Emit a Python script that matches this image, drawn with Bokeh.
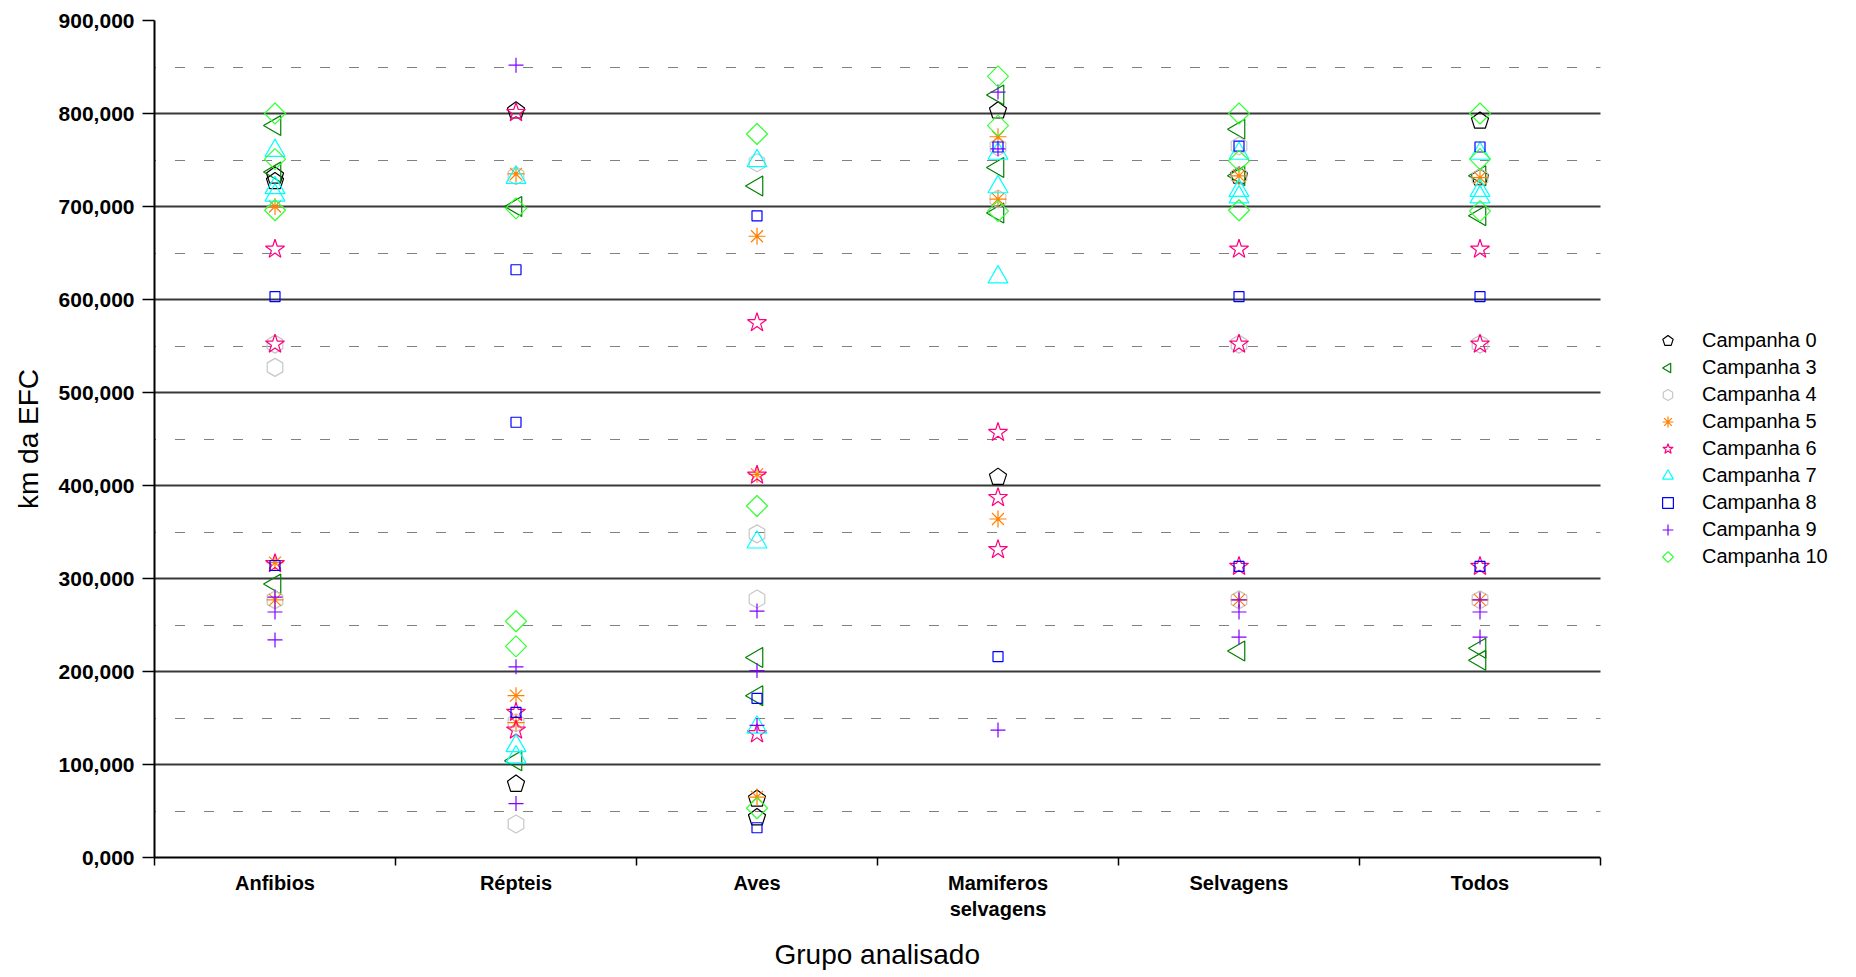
import math
from bokeh.plotting import figure
from bokeh.models import (Range1d, FixedTicker, Legend, LegendItem, ColumnDataSource, Ngon, Title,
                          BoxAnnotation)
from bokeh.embed import file_html
from bokeh.resources import INLINE

# ---------------- data ----------------
cat_keys = ["Anfibios", "Répteis", "Aves", "Mamiferos", "Selvagens", "Todos"]
cat_labels = ["Anfibios", "Répteis", "Aves", "Mamiferos\nselvagens", "Selvagens", "Todos"]

y_ticks = [0, 100, 200, 300, 400, 500, 600, 700, 800, 900]
y_minor = [50, 150, 250, 350, 450, 550, 650, 750, 850]

c0_grp = ["Anfibios", "Anfibios", "Répteis", "Répteis", "Aves", "Aves", "Mamiferos", "Mamiferos", "Selvagens", "Todos", "Todos"]
c0_km = [733, 727, 803, 79, 63, 43, 803, 409, 733, 792, 731]

c3_grp = ["Anfibios", "Anfibios", "Anfibios", "Répteis", "Répteis", "Aves", "Aves", "Aves", "Mamiferos", "Mamiferos", "Mamiferos",
          "Selvagens", "Selvagens", "Selvagens", "Todos", "Todos", "Todos", "Todos"]
c3_km = [787, 737, 294, 700, 104, 722, 215, 174, 820, 742, 693, 783, 733, 222, 733, 690, 225, 212]

c4_grp = ["Anfibios", "Anfibios", "Anfibios", "Répteis", "Répteis", "Répteis", "Aves", "Aves", "Aves", "Mamiferos", "Mamiferos",
          "Selvagens", "Selvagens", "Selvagens", "Selvagens", "Todos", "Todos", "Todos"]
c4_km = [552, 527, 277, 733, 145, 36, 747, 348, 278, 764, 708, 765, 733, 552, 277, 731, 552, 277]

c5_grp = ["Anfibios", "Anfibios", "Anfibios", "Répteis", "Répteis", "Répteis", "Aves", "Aves", "Aves", "Mamiferos", "Mamiferos", "Mamiferos",
          "Selvagens", "Selvagens", "Todos", "Todos"]
c5_km = [700, 317, 277, 735, 174, 145, 668, 412, 65, 775, 708, 364, 733, 277, 731, 277]

c6_grp = ["Anfibios", "Anfibios", "Anfibios", "Répteis", "Répteis", "Répteis", "Aves", "Aves", "Aves", "Mamiferos", "Mamiferos", "Mamiferos",
          "Selvagens", "Selvagens", "Selvagens", "Todos", "Todos", "Todos"]
c6_km = [654, 552, 316, 801, 156, 137, 575, 411, 133, 457, 387, 331, 654, 552, 313, 654, 552, 313]

c7_grp = ["Anfibios", "Anfibios", "Anfibios", "Répteis", "Répteis", "Répteis", "Aves", "Aves", "Aves", "Mamiferos", "Mamiferos", "Mamiferos",
          "Selvagens", "Selvagens", "Selvagens", "Todos", "Todos", "Todos"]
c7_km = [760, 720, 712, 731, 120, 108, 749, 339, 140, 757, 721, 624, 757, 717, 710, 757, 717, 710]

c8_grp = ["Anfibios", "Anfibios", "Répteis", "Répteis", "Répteis", "Aves", "Aves", "Aves", "Mamiferos", "Mamiferos",
          "Selvagens", "Selvagens", "Selvagens", "Todos", "Todos", "Todos"]
c8_km = [603, 314, 632, 468, 156, 690, 171, 32, 764, 216, 765, 603, 313, 764, 603, 313]

c9_grp = ["Anfibios", "Anfibios", "Anfibios", "Répteis", "Répteis", "Répteis", "Aves", "Aves", "Aves", "Mamiferos", "Mamiferos", "Mamiferos",
          "Selvagens", "Selvagens", "Selvagens", "Todos", "Todos", "Todos"]
c9_km = [280, 264, 234, 852, 205, 58, 265, 201, 142, 823, 762, 137, 277, 264, 237, 277, 264, 237]

c10_grp = ["Anfibios", "Anfibios", "Anfibios", "Répteis", "Répteis", "Répteis", "Aves", "Aves", "Aves", "Mamiferos", "Mamiferos", "Mamiferos",
           "Selvagens", "Selvagens", "Selvagens", "Todos", "Todos", "Todos"]
c10_km = [800, 751, 696, 698, 254, 227, 778, 378, 53, 840, 787, 695, 800, 749, 696, 800, 751, 695]

series_names = ["Campanha 0", "Campanha 3", "Campanha 4", "Campanha 5", "Campanha 6",
                "Campanha 7", "Campanha 8", "Campanha 9", "Campanha 10"]

x_title = "Grupo analisado"
y_title = "km da EFC"

# ---------------- figure ----------------
FONT = "Liberation Sans"
PLOT_W = 1446          # width of the 6 category columns, px
FRAME_W = 1696         # frame extends to the right to host the legend
n_cat = len(cat_keys)
p = figure(frame_width=FRAME_W, frame_height=837, output_backend="svg", toolbar_location=None,
           x_range=Range1d(0, n_cat * FRAME_W / PLOT_W), y_range=Range1d(0, 900),
           min_border_left=154, min_border_top=20, min_border_bottom=0, min_border_right=0)
p.outline_line_color = None
p.background_fill_color = "white"

def xs(grp):
    return [cat_keys.index(g) + 0.5 for g in grp]

style = [
    # name, grp, km, kind, marker/n, color, size, angle
    (series_names[0], c0_grp, c0_km, "ngon", 5, "black", 9, 0),
    (series_names[1], c3_grp, c3_km, "ngon", 3, "#008000", 11.5, math.pi / 2),
    (series_names[2], c4_grp, c4_km, "ngon", 6, "#c8c8c8", 9, 0),
    (series_names[3], c5_grp, c5_km, "scatter", "asterisk", "#ff8000", 17, 0),
    (series_names[4], c6_grp, c6_km, "scatter", "star", "#ff0080", 20, 0),
    (series_names[5], c7_grp, c7_km, "scatter", "triangle", "#00ffff", 20, 0),
    (series_names[6], c8_grp, c8_km, "scatter", "square", "#0000ff", 10, 0),
    (series_names[7], c9_grp, c9_km, "scatter", "cross", "#8000ff", 15, 0),
    (series_names[8], c10_grp, c10_km, "ngon", 4, "#33ff33", 10.5, 0),
]

items = []
for name, grp, km, kind, mk, color, size, ang in style:
    src = ColumnDataSource(dict(x=xs(grp), y=km))
    if kind == "ngon":
        g = Ngon(x="x", y="y", radius=size, radius_units="screen", n=mk, angle=ang,
                 fill_color=None, line_color=color, line_width=1.2)
        r = p.add_glyph(src, g)
    else:
        r = p.scatter("x", "y", source=src, marker=mk, size=size, angle=ang,
                      fill_color=None, line_color=color, line_width=1.2)
    items.append(LegendItem(label=name, renderers=[r]))

# ---------------- axes ----------------
p.xaxis.bounds = (0, n_cat)
p.xaxis.ticker = FixedTicker(ticks=[i + 0.5 for i in range(n_cat)],
                             minor_ticks=list(range(n_cat + 1)))
p.xaxis.major_label_overrides = {i + 0.5: lab for i, lab in enumerate(cat_labels)}
p.xaxis.major_tick_line_color = None
p.xaxis.major_tick_out = 8
p.xaxis.minor_tick_out = 8
p.xaxis.minor_tick_in = 0
p.xaxis.minor_tick_line_color = "black"
p.xaxis.minor_tick_line_width = 1.5
p.xaxis.major_label_standoff = 6

p.yaxis.ticker = FixedTicker(ticks=y_ticks, minor_ticks=y_minor)
p.yaxis.major_label_overrides = {t: f"{t:.3f}".replace(".", ",") for t in y_ticks}
p.yaxis.minor_tick_line_color = None
p.yaxis.major_tick_out = 12
p.yaxis.major_tick_in = 0
p.yaxis.major_tick_line_width = 1.5
p.yaxis.major_label_standoff = 8
p.yaxis.axis_label = y_title
p.yaxis.axis_label_standoff = 12

for ax in (p.xaxis[0], p.yaxis[0]):
    ax.axis_line_color = "black"
    ax.axis_line_width = 2
    ax.major_label_text_font = FONT
    ax.major_label_text_font_style = "bold"
    ax.major_label_text_color = "black"
    ax.axis_label_text_font = FONT
    ax.axis_label_text_font_style = "normal"
    ax.axis_label_text_font_size = "28px"
    ax.axis_label_text_color = "black"
p.xaxis.major_label_text_font_size = "20px"
p.yaxis.major_label_text_font_size = "21px"

# x-axis title, centred under the six category columns
xt = Title(text=x_title, align="left", offset=620, text_font=FONT, text_font_size="28px",
           text_font_style="normal", text_color="black", standoff=29)
p.add_layout(xt, "below")

# ---------------- grids ----------------
p.xgrid.grid_line_color = None
p.ygrid.bounds = (0, n_cat)
p.ygrid.ticker = FixedTicker(ticks=y_ticks[1:-1], minor_ticks=y_minor)
p.ygrid.grid_line_color = "#383838"
p.ygrid.grid_line_width = 2
p.ygrid.minor_grid_line_color = "black"
p.ygrid.minor_grid_line_width = 1
p.ygrid.minor_grid_line_dash = "1 1 1 1 1 1 1 1 1 20"
p.ygrid.minor_grid_line_dash_offset = 8

# white mask over the legend area (right of the last category column)
p.add_layout(BoxAnnotation(left=n_cat, fill_color="white", fill_alpha=1.0, line_color=None))

# ---------------- legend ----------------
legend = Legend(items=items, location=(1500, 287),
                border_line_color=None, background_fill_alpha=0,
                label_text_font=FONT, label_text_font_size="20px", label_text_color="black",
                glyph_width=27, glyph_height=27, label_height=20,
                label_standoff=21, spacing=0, padding=10, margin=0)
p.add_layout(legend)

open("out.html", "w").write(file_html(p, INLINE))
